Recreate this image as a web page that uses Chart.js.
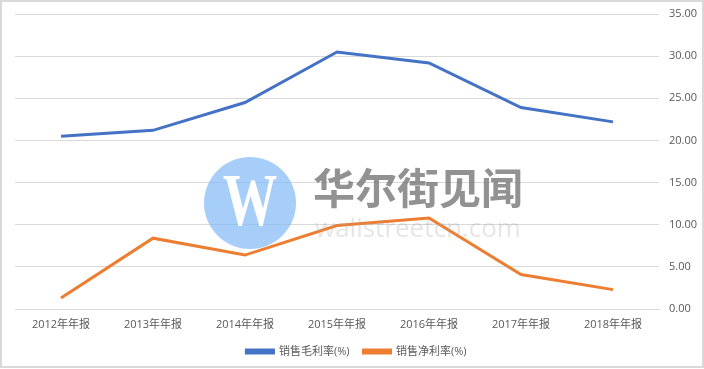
<!DOCTYPE html>
<html>
<head>
<meta charset="utf-8">
<script src="https://cdn.jsdelivr.net/npm/chart.js@4"></script>
<style>
    html, body { margin: 0; padding: 0; background: #fff; }
    #wrap { width: 704px; height: 369px; }
</style>
</head>
<body>
<div id="wrap"><canvas id="marginChart" width="704" height="369"></canvas></div>
<script>
const categories = ['2012年年报', '2013年年报', '2014年年报', '2015年年报', '2016年年报', '2017年年报', '2018年年报'];
const grossMargin = [20.5, 21.2, 24.5, 30.5, 29.2, 23.9, 22.2];
const netMargin = [1.3, 8.4, 6.4, 9.9, 10.8, 4.1, 2.3];
const yTicks = [0, 5, 10, 15, 20, 25, 30, 35];
const seriesNames = ['销售毛利率(%)', '销售净利率(%)'];
const seriesColors = ['#4472C4', '#ED7D31'];

const FONT = '"Open Sans", "Noto Sans CJK SC", sans-serif';
const TEXT_COLOR = '#595959';

// Outer frame and the wallstreetcn watermark sit on top of the plot
const decorations = {
    id: 'decorations',
    afterLayout(chart) {
        // reference legend sits a little left of centre
        chart.legend.left -= 3;
        chart.legend.right -= 3;
    },
    afterDraw(chart) {
        const ctx = chart.ctx;
        ctx.save();
        ctx.strokeStyle = '#d9d9d9';
        ctx.lineWidth = 2;
        ctx.strokeRect(1, 1, 702, 366);

        ctx.fillStyle = 'rgba(130, 185, 245, 0.7)';
        ctx.beginPath();
        ctx.arc(250, 203, 46, 0, Math.PI * 2);
        ctx.fill();

        ctx.fillStyle = '#fff';
        ctx.textAlign = 'center';
        ctx.textBaseline = 'middle';
        ctx.save();
        ctx.translate(250, 203);
        ctx.scale(0.88, 1.2);
        ctx.font = 'bold 62px "Liberation Serif", serif';
        ctx.fillText('W', 0, 2);
        ctx.restore();

        ctx.fillStyle = 'rgba(110, 110, 110, 0.75)';
        ctx.font = 'bold 42px "Noto Sans CJK SC", sans-serif';
        ctx.textAlign = 'left';
        ctx.fillText('华尔街见闻', 313, 188);

        ctx.fillStyle = 'rgba(170, 170, 170, 0.3)';
        ctx.font = '26px "Open Sans", sans-serif';
        ctx.fillText('wallstreetcn.com', 315, 230);
        ctx.restore();
    }
};

new Chart(document.getElementById('marginChart').getContext('2d'), {
    type: 'line',
    data: {
        labels: categories,
        datasets: [
            {
                label: seriesNames[0],
                data: grossMargin,
                borderColor: seriesColors[0],
                backgroundColor: seriesColors[0],
                borderWidth: 3,
                pointRadius: 0,
                tension: 0
            },
            {
                label: seriesNames[1],
                data: netMargin,
                borderColor: seriesColors[1],
                backgroundColor: seriesColors[1],
                borderWidth: 3,
                pointRadius: 0,
                tension: 0
            }
        ]
    },
    options: {
        responsive: false,
        animation: false,
        layout: { padding: { left: 15, top: 14, right: 0, bottom: 2 } },
        scales: {
            x: {
                offset: true,
                grid: { display: false, drawTicks: false },
                border: { color: '#d9d9d9', width: 1 },
                ticks: {
                    color: TEXT_COLOR,
                    font: { family: FONT, size: 11 },
                    maxRotation: 0,
                    padding: 9
                },
                afterFit(scale) { scale.height = 23; }
            },
            y: {
                position: 'right',
                min: 0,
                max: 35,
                afterBuildTicks(scale) {
                    scale.ticks = yTicks.map(v => ({ value: v }));
                },
                grid: { color: '#d9d9d9', drawTicks: false },
                border: { display: false },
                ticks: {
                    color: TEXT_COLOR,
                    font: { family: FONT, size: 11 },
                    padding: 10,
                    callback: v => v.toFixed(2)
                },
                afterFit(scale) {
                    scale.width = 45;
                    scale.paddingTop = 0;
                }
            }
        },
        plugins: {
            legend: {
                position: 'bottom',
                labels: {
                    color: TEXT_COLOR,
                    font: { family: FONT, size: 11 },
                    boxWidth: 27,
                    boxHeight: 3,
                    padding: 14
                }
            },
            tooltip: { enabled: false }
        }
    },
    plugins: [decorations]
});
</script>
</body>
</html>
